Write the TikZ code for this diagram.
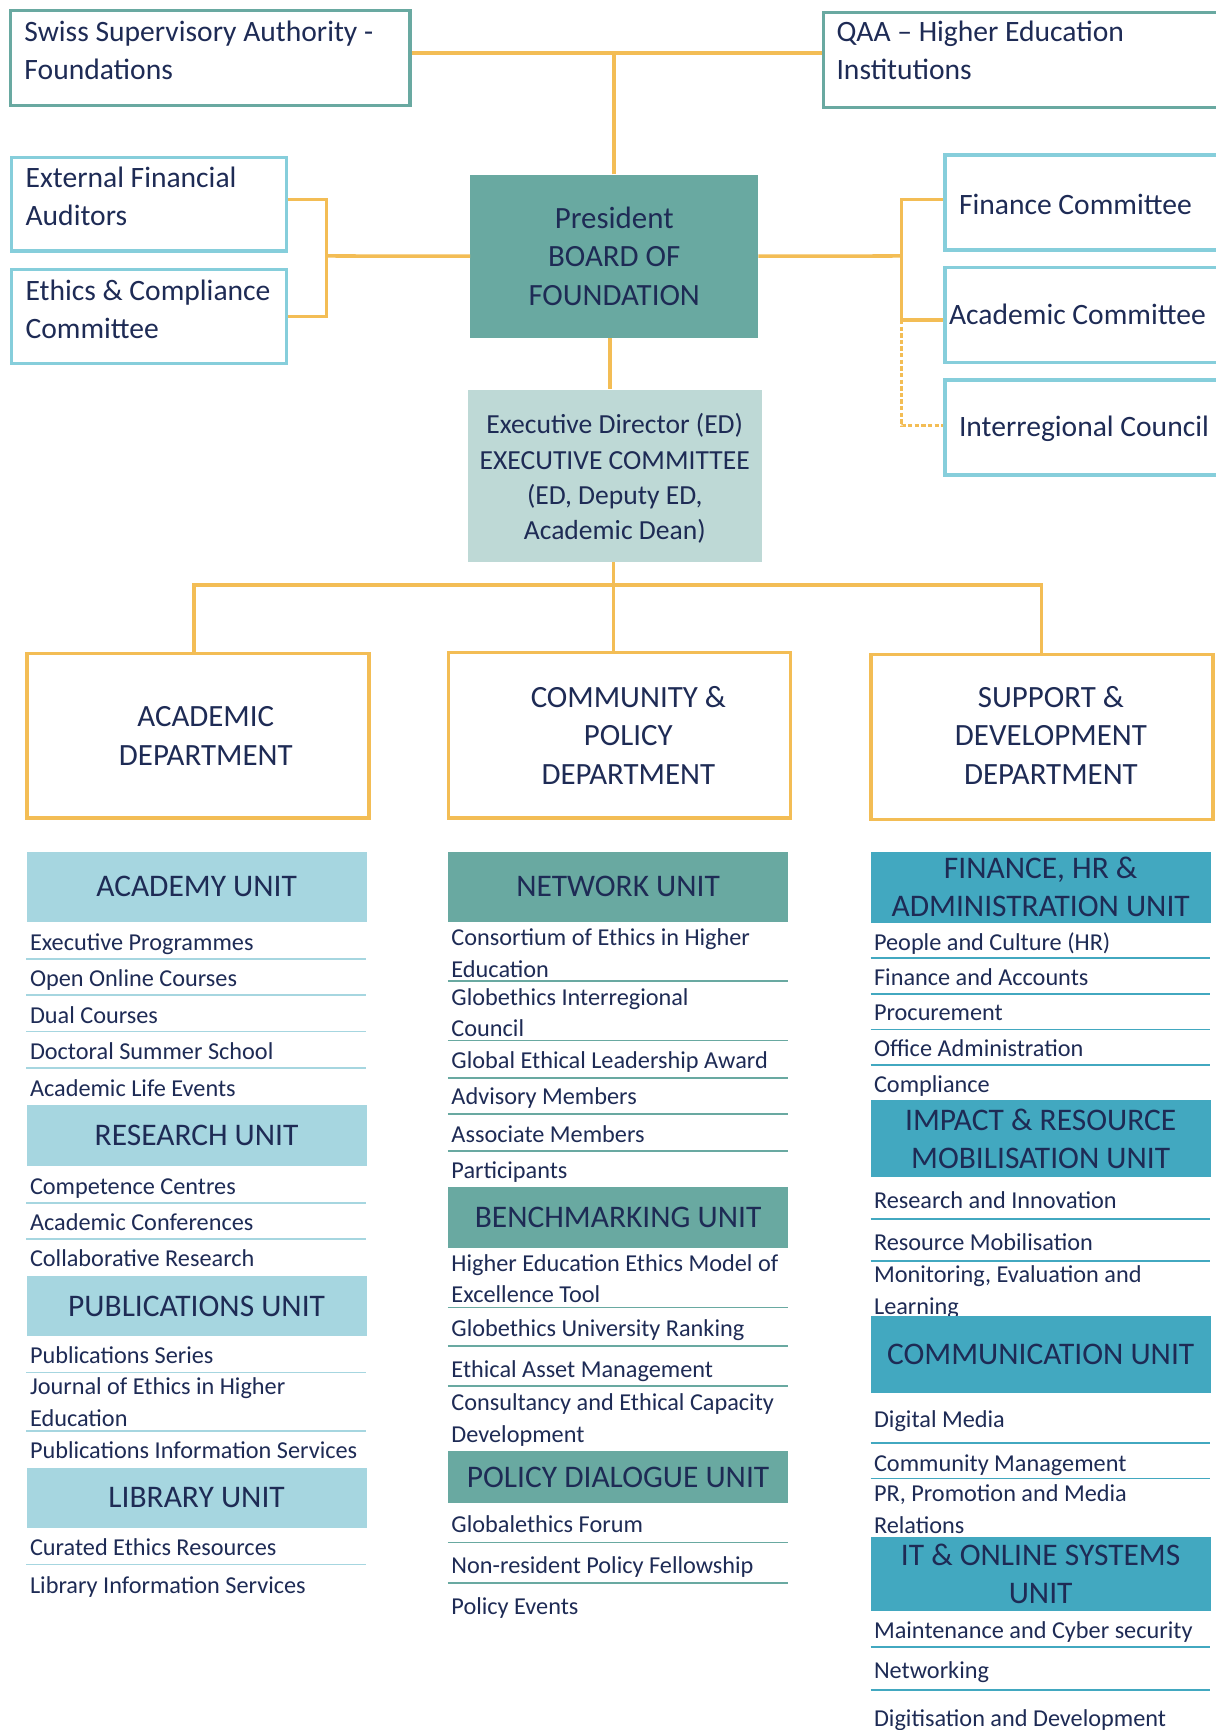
\documentclass[tikz,border=0pt]{standalone}
\usepackage{fontspec}
\setmainfont{Carlito}
\definecolor{navy}{HTML}{1E2B55}
\definecolor{lineor}{HTML}{F3BD55}
\definecolor{tealc}{HTML}{69A9A1}
\definecolor{lblue}{HTML}{86CEDB}
\definecolor{hdra}{HTML}{A6D6E0}
\definecolor{hdrc}{HTML}{42A8C0}
\definecolor{execf}{HTML}{BED9D6}
\tikzset{
  conn/.style={draw=lineor, line width=3.2pt},
  tealbox/.style={draw=tealc, line width=3pt, fill=white, anchor=north west, inner sep=0},
  bluebox/.style={draw=lblue, line width=3pt, fill=white, anchor=north west, inner sep=0},
  deptbox/.style={draw=lineor, line width=3pt, fill=white, anchor=north west, inner sep=0},
  depttxt/.style={text=navy, inner sep=0, align=center, font=\fontsize{28}{35}\selectfont},
  lbl/.style={text=navy, inner sep=0, align=left, font=\fontsize{26.8}{34.5}\selectfont},
  lblone/.style={lbl, anchor=west, text height=19pt, text depth=0pt},
  hdr/.style={anchor=north west, inner sep=0, text=navy, align=center, minimum width=308pt, font=\fontsize{28.5}{34.5}\selectfont},
  item/.style={text=navy, inner sep=0, anchor=west, align=left, font=\fontsize{22}{28.5}\selectfont, text height=16.5pt, text depth=0pt},
  itemtwo/.style={text=navy, inner sep=0, anchor=west, align=left, font=\fontsize{22}{28.5}\selectfont},
  sepa/.style={draw=hdra, line width=1.6pt},
  sepb/.style={draw=tealc, line width=1.6pt},
  sepc/.style={draw=hdrc, line width=1.6pt},
}
\newcommand\gitem[4]{\node[item] (#1) at (#2,#3) {#4};}
\newcommand\gitemtwo[4]{\node[itemtwo] (#1) at (#2,#3) {#4};}
\begin{document}
\begin{tikzpicture}[x=1pt,y=-1pt]
\clip (0,0) rectangle (1102,1568);
\fill[white] (0,0) rectangle (1102,1568);

% top boxes
\node[tealbox, minimum width=362pt, minimum height=86pt] (swiss) at (8,8) {};
\node[tealbox, minimum width=380pt, minimum height=86pt] (qaa) at (745,10) {};
\node[lbl, anchor=west] (swisst) at (22,46) {Swiss Supervisory Authority -\\Foundations};
\node[lbl, anchor=west] (qaat) at (758,46) {QAA -- Higher Education\\Institutions};

% board
\node[fill=tealc, anchor=north west, minimum width=261pt, minimum height=148pt, inner sep=0] (board) at (426,158) {};
\node[text=navy, inner sep=0, align=center, font=\fontsize{28}{35}\selectfont] (boardt) at (board.center) {President\\BOARD OF\\FOUNDATION};

% left boxes
\node[bluebox, minimum width=249pt, minimum height=85pt] (efa) at (9,141) {};
\node[bluebox, minimum width=249pt, minimum height=85pt] (eth) at (9,243) {};
\node[lbl, anchor=west] (efat) at (23,178) {External Financial\\Auditors};
\node[lbl, anchor=west] (etht) at (23,280) {Ethics \& Compliance\\Committee};

% right boxes
\node[bluebox, minimum width=260pt, minimum height=86pt] (fin) at (855,139) {};
\node[bluebox, minimum width=260pt, minimum height=86pt] (acc) at (855,241) {};
\node[bluebox, minimum width=260pt, minimum height=86pt] (irc) at (855,343) {};
\node[lblone] (fint) at (869,185) {Finance Committee};
\node[lblone] (acct) at (860,285) {Academic Committee};
\node[lblone] (irct) at (869,386) {Interregional Council};

% executive
\node[fill=execf, anchor=north west, minimum width=266pt, minimum height=156pt, inner sep=0] (exec) at (424,353) {};
\node[text=navy, inner sep=0, align=center, font=\fontsize{25}{32}\selectfont] (exect) at ([yshift=-2.5pt]exec.center) {Executive Director (ED)\\EXECUTIVE COMMITTEE\\(ED, Deputy ED,\\Academic Dean)};

% departments
\node[deptbox, minimum width=310pt, minimum height=149pt] (acdep) at (23,591) {};
\node[deptbox, minimum width=310pt, minimum height=150pt] (cpdep) at (405,590) {};
\node[deptbox, minimum width=310pt, minimum height=149pt] (spdep) at (788,592) {};
\node[depttxt] (acdept) at ([xshift=7pt]acdep.center) {ACADEMIC\\DEPARTMENT};
\node[depttxt] (cpdept) at ([xshift=8pt]cpdep.center) {COMMUNITY \&\\POLICY\\DEPARTMENT};
\node[depttxt] (spdept) at ([xshift=8pt,yshift=1.5pt]spdep.center) {SUPPORT \&\\DEVELOPMENT\\DEPARTMENT};

% connectors
\draw[conn] (swiss.east |- 0,48) -- (qaa.west |- 0,48);
\draw[conn] (board.north) -- (board.north |- 0,48);
\coordinate (lj) at (296,232);
\draw[conn] (efa.east |- 0,181) -| (lj) |- (eth.east |- 0,287);
\draw[conn] (lj) -- (board.west);
\coordinate (rj) at (817,232);
\draw[conn] (board.east) -- (rj);
\draw[conn] (fin.west |- 0,181) -| (rj) -- (817,290) -- (acc.west |- 0,290);
\draw[conn, line width=2.6pt, dash pattern=on 4pt off 2pt] (817,290) |- (irc.west |- 0,386);
\draw[conn] (board.south -| 553,0) -- (exec.north -| 553,0);
\coordinate (dj) at (556,530);
\draw[conn] (exec.south -| dj) -- (dj);
\draw[conn] (acdep.north -| 176,0) |- (dj) -| (spdep.north -| 944,0);
\draw[conn] (dj) -- (cpdep.north -| dj);

% ---------- left column
\node[hdr, fill=hdra, minimum height=63pt] (acu) at (24,772) {ACADEMY UNIT};
\gitem{a1}{27}{853}{Executive Programmes}
\gitem{a2}{27}{886}{Open Online Courses}
\gitem{a3}{27}{919}{Dual Courses}
\gitem{a4}{27}{952}{Doctoral Summer School}
\gitem{a5}{27}{986}{Academic Life Events}
\draw[sepa] (24,869) -- (332,869);
\draw[sepa] (24,902) -- (332,902);
\draw[sepa] (24,935) -- (332,935);
\draw[sepa] (24,968) -- (332,968);
\node[hdr, fill=hdra, minimum height=56pt] (reu) at (24,1001) {RESEARCH UNIT};
\gitem{r1}{27}{1074}{Competence Centres}
\gitem{r2}{27}{1107}{Academic Conferences}
\gitem{r3}{27}{1140}{Collaborative Research}
\draw[sepa] (24,1090) -- (332,1090);
\draw[sepa] (24,1123) -- (332,1123);
\node[hdr, fill=hdra, minimum height=55pt] (puu) at (24,1156) {PUBLICATIONS UNIT};
\gitem{p1}{27}{1228}{Publications Series}
\gitemtwo{p2}{27}{1271}{Journal of Ethics in Higher\\Education}
\gitem{p3}{27}{1314}{Publications Information Services}
\draw[sepa] (24,1244) -- (332,1244);
\draw[sepa] (24,1297) -- (332,1297);
\node[hdr, fill=hdra, minimum height=55pt] (liu) at (24,1330) {LIBRARY UNIT};
\gitem{l1}{27}{1402}{Curated Ethics Resources}
\gitem{l2}{27}{1436}{Library Information Services}
\draw[sepa] (24,1418) -- (332,1418);

% ---------- middle column
\node[hdr, fill=tealc, minimum height=63pt] (neu) at (406,772) {NETWORK UNIT};
\gitemtwo{n1}{409}{864}{Consortium of Ethics in Higher\\Education}
\gitemtwo{n2}{409}{918}{Globethics Interregional\\Council}
\gitem{n3}{409}{960}{Global Ethical Leadership Award}
\gitem{n4}{409}{993}{Advisory Members}
\gitem{n5}{409}{1027}{Associate Members}
\gitem{n6}{409}{1060}{Participants}
\draw[sepb] (406,889) -- (714,889);
\draw[sepb] (406,943) -- (714,943);
\draw[sepb] (406,977) -- (714,977);
\draw[sepb] (406,1010) -- (714,1010);
\draw[sepb] (406,1043) -- (714,1043);
\node[hdr, fill=tealc, minimum height=55pt] (beu) at (406,1076) {BENCHMARKING UNIT};
\gitemtwo{b1}{409}{1159}{Higher Education Ethics Model of\\Excellence Tool}
\gitem{b2}{409}{1203}{Globethics University Ranking}
\gitem{b3}{409}{1240}{Ethical Asset Management}
\gitemtwo{b4}{409}{1287}{Consultancy and Ethical Capacity\\Development}
\draw[sepb] (406,1185) -- (714,1185);
\draw[sepb] (406,1220) -- (714,1220);
\draw[sepb] (406,1256) -- (714,1256);
\node[hdr, fill=tealc, minimum height=47pt] (pdu) at (406,1315) {POLICY DIALOGUE UNIT};
\gitem{d1}{409}{1381}{Globalethics Forum}
\gitem{d2}{409}{1418}{Non-resident Policy Fellowship}
\gitem{d3}{409}{1455}{Policy Events}
\draw[sepb] (406,1398) -- (714,1398);
\draw[sepb] (406,1435) -- (714,1435);

% ---------- right column
\node[hdr, fill=hdrc, minimum height=64pt] (fhu) at (789,772) {FINANCE, HR \&\\ADMINISTRATION UNIT};
\gitem{f1}{792}{853}{People and Culture (HR)}
\gitem{f2}{792}{885}{Finance and Accounts}
\gitem{f3}{792}{917}{Procurement}
\gitem{f4}{792}{949}{Office Administration}
\gitem{f5}{792}{982}{Compliance}
\draw[sepc] (789,868) -- (1097,868);
\draw[sepc] (789,901) -- (1097,901);
\draw[sepc] (789,933) -- (1097,933);
\draw[sepc] (789,965) -- (1097,965);
\node[hdr, fill=hdrc, minimum height=70pt] (imu) at (789,997) {IMPACT \& RESOURCE\\MOBILISATION UNIT};
\gitem{m1}{792}{1087}{Research and Innovation}
\gitem{m2}{792}{1125}{Resource Mobilisation}
\gitemtwo{m3}{792}{1171}{Monitoring, Evaluation and\\Learning}
\draw[sepc] (789,1105) -- (1097,1105);
\draw[sepc] (789,1143) -- (1097,1143);
\node[hdr, fill=hdrc, minimum height=69pt] (cou) at (789,1193) {COMMUNICATION UNIT};
\gitem{c1}{792}{1286}{Digital Media}
\gitem{c2}{792}{1325}{Community Management}
\gitemtwo{c3}{792}{1368}{PR, Promotion and Media\\Relations}
\draw[sepc] (789,1308) -- (1097,1308);
\draw[sepc] (789,1340) -- (1097,1340);
\node[hdr, fill=hdrc, minimum height=67pt] (itu) at (789,1393) {IT \& ONLINE SYSTEMS\\UNIT};
\gitem{t1}{792}{1477}{Maintenance and Cyber security}
\gitem{t2}{792}{1513}{Networking}
\gitem{t3}{792}{1557}{Digitisation and Development}
\draw[sepc] (789,1493) -- (1097,1493);
\draw[sepc] (789,1532) -- (1097,1532);
\end{tikzpicture}
\end{document}
